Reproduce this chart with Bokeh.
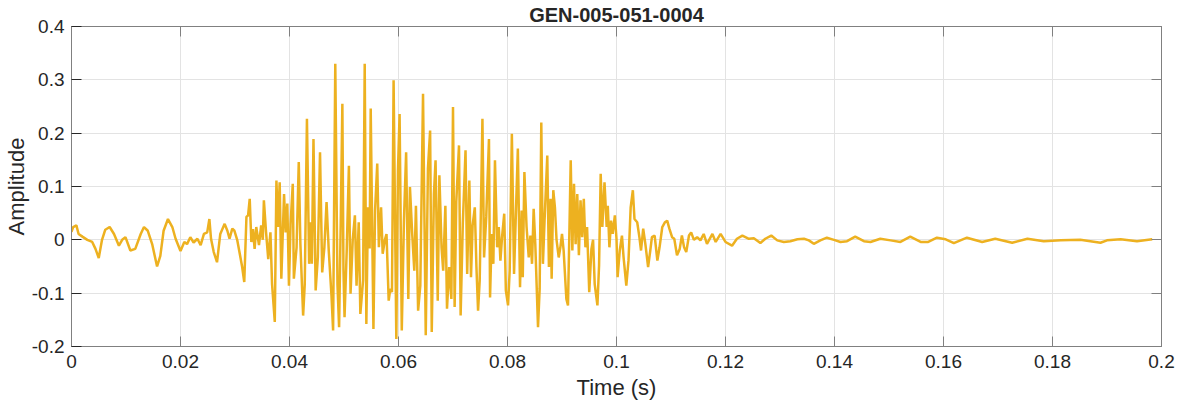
from bokeh.plotting import figure
from bokeh.models import Range1d, FixedTicker, LinearAxis
from bokeh.embed import file_html
from bokeh.resources import INLINE

# ---------------- data ----------------
chart_title = "GEN-005-051-0004"
x_label = "Time (s)"
y_label = "Amplitude"

x_ticks = [0, 0.02, 0.04, 0.06, 0.08, 0.1, 0.12, 0.14, 0.16, 0.18, 0.2]
x_tick_labels = ["0", "0.02", "0.04", "0.06", "0.08", "0.1", "0.12", "0.14", "0.16", "0.18", "0.2"]
y_ticks = [-0.2, -0.1, 0, 0.1, 0.2, 0.3, 0.4]
y_tick_labels = ["-0.2", "-0.1", "0", "0.1", "0.2", "0.3", "0.4"]

time_s = [
    0.0000, 0.0003, 0.0009, 0.0013, 0.0020, 0.0029, 0.0038, 0.0044, 0.0050, 0.0056,
    0.0062, 0.0070, 0.0078, 0.0087, 0.0093, 0.0099, 0.0108, 0.0117, 0.0127, 0.0133,
    0.0140, 0.0148, 0.0157, 0.0163, 0.0169, 0.0177, 0.0185, 0.0191, 0.0200, 0.0207,
    0.0212, 0.0218, 0.0224, 0.0231, 0.0237, 0.0243, 0.0249, 0.0253, 0.0256, 0.0261,
    0.0267, 0.0273, 0.0281, 0.0286, 0.0290, 0.0295, 0.0299, 0.0304,
    0.0310, 0.0313, 0.0317, 0.0321, 0.0324, 0.0327, 0.0330, 0.0333, 0.0336, 0.0339,
    0.0344, 0.0348, 0.0351, 0.0353, 0.0357, 0.0361, 0.0365, 0.0368, 0.0373, 0.0376,
    0.0379, 0.0382, 0.0385, 0.0390, 0.0393, 0.0396, 0.0399, 0.0402, 0.0406, 0.0408,
    0.0413, 0.0417, 0.0420, 0.0425, 0.0428, 0.0432, 0.0436, 0.0439, 0.0441, 0.0444,
    0.0448, 0.0452, 0.0456, 0.0460, 0.0464, 0.0468, 0.0472, 0.0477,
    0.0480, 0.0484, 0.0488, 0.0491, 0.0494, 0.0497, 0.0499, 0.0501, 0.0505, 0.0509,
    0.0512, 0.0516, 0.0520, 0.0523, 0.0527, 0.0530, 0.0535, 0.0538, 0.0541, 0.0544,
    0.0547, 0.0549, 0.0554, 0.0557, 0.0561, 0.0564, 0.0568, 0.0571, 0.0575, 0.0578,
    0.0582, 0.0585, 0.0588, 0.0591, 0.0596, 0.0599, 0.0602, 0.0606, 0.0610, 0.0614,
    0.0618, 0.0621, 0.0625, 0.0629, 0.0632, 0.0636, 0.0640, 0.0645, 0.0650, 0.0654, 0.0658,
    0.0661, 0.0665, 0.0668, 0.0672, 0.0675, 0.0679, 0.0682, 0.0686, 0.0689, 0.0693,
    0.0697, 0.0700, 0.0703, 0.0706, 0.0711, 0.0714, 0.0718, 0.0723, 0.0726, 0.0730,
    0.0733, 0.0736, 0.0740, 0.0743, 0.0746, 0.0749, 0.0754, 0.0757, 0.0761, 0.0766,
    0.0768, 0.0771, 0.0774, 0.0777, 0.0781, 0.0784, 0.0787, 0.0790, 0.0794, 0.0797,
    0.0801, 0.0804, 0.0808,
    0.0812, 0.0815, 0.0819, 0.0823, 0.0826, 0.0828, 0.0831, 0.0835, 0.0839, 0.0842,
    0.0845, 0.0848, 0.0851, 0.0856, 0.0859, 0.0862, 0.0865, 0.0868, 0.0873, 0.0876,
    0.0879, 0.0881, 0.0884, 0.0887, 0.0890, 0.0894, 0.0897, 0.0900, 0.0903, 0.0908,
    0.0911, 0.0916, 0.0919, 0.0922, 0.0925, 0.0928, 0.0931, 0.0934, 0.0937, 0.0940,
    0.0943, 0.0946, 0.0950, 0.0954, 0.0957, 0.0960, 0.0965, 0.0968, 0.0971, 0.0974, 0.0978,
    0.0982, 0.0984, 0.0987, 0.0990, 0.0993, 0.0997, 0.1000, 0.1002, 0.1006, 0.1010,
    0.1013, 0.1018, 0.1022, 0.1026, 0.1030, 0.1033, 0.1038, 0.1042, 0.1045, 0.1049,
    0.1053, 0.1058, 0.1062, 0.1065, 0.1070, 0.1075, 0.1079, 0.1084, 0.1089, 0.1093,
    0.1097, 0.1102, 0.1106, 0.1111, 0.1116, 0.1120, 0.1124, 0.1128, 0.1133, 0.1137,
    0.1142, 0.1148, 0.1154,
    0.1160, 0.1166, 0.1176, 0.1182, 0.1191, 0.1200, 0.1212, 0.1221, 0.1231, 0.1243,
    0.1252, 0.1264, 0.1273, 0.1284, 0.1295, 0.1307, 0.1319, 0.1332, 0.1344, 0.1353,
    0.1362, 0.1374, 0.1386, 0.1399, 0.1411, 0.1423, 0.1438, 0.1454, 0.1466, 0.1484,
    0.1503, 0.1521, 0.1539, 0.1558,
    0.1572, 0.1588, 0.1604, 0.1619, 0.1643, 0.1671, 0.1695, 0.1726, 0.1754, 0.1784,
    0.1815, 0.1851, 0.1888, 0.1900, 0.1925, 0.1955, 0.1983,
]

amplitude = [
    0.015, 0.024, 0.027, 0.011, 0.006, 0.000, -0.004, -0.017, -0.034, 0.000,
    0.019, 0.024, 0.011, -0.011, 0.000, 0.005, -0.020, -0.017, 0.011, 0.024,
    0.017, -0.008, -0.050, -0.030, 0.017, 0.039, 0.024, 0.002, -0.021, -0.004,
    -0.008, 0.005, -0.005, 0.002, -0.010, 0.011, 0.014, 0.039, 0.002, -0.023,
    -0.042, 0.011, 0.030, 0.017, 0.002, 0.021, 0.017, 0.000,
    -0.033, -0.050, -0.079, 0.043, 0.046, 0.077, -0.004, 0.020, -0.017, 0.024,
    -0.010, 0.027, 0.000, 0.074, 0.014, -0.036, 0.014, -0.083, -0.154, 0.111,
    0.024, 0.108, -0.073, 0.086, 0.014, 0.068, -0.086, 0.030, 0.105, -0.073,
    -0.014, 0.146, -0.008, -0.142, -0.083, 0.227, -0.045, 0.033, -0.045, 0.189,
    -0.095, -0.033, 0.164, -0.061, -0.014, 0.071, -0.020, -0.104,
    -0.170, 0.330, -0.083, -0.164, 0.033, 0.255, -0.056, -0.145, -0.020, 0.139,
    -0.101, 0.000, 0.046, -0.086, 0.033, -0.139, -0.076, 0.330, -0.158, 0.061,
    -0.016, 0.246, -0.167, 0.055, 0.143, -0.014, 0.061, -0.026, 0.000, 0.011,
    -0.114, -0.092, -0.098, 0.299, -0.186, 0.130, 0.236, -0.170, 0.036, 0.164,
    -0.111, 0.099, 0.014, -0.058, 0.064, -0.133, -0.086, 0.274, -0.179, 0.133, 0.205,
    -0.173, 0.086, 0.149, -0.114, 0.121, -0.014, -0.058, 0.064, -0.129, -0.051,
    -0.111, 0.249, -0.126, 0.071, 0.177, -0.142, 0.030, 0.168, -0.064, 0.111,
    -0.070, 0.027, 0.061, -0.051, -0.133, -0.076, 0.227, -0.033, 0.043, 0.189,
    -0.108, 0.011, -0.045, 0.149, -0.014, 0.024, -0.039, 0.005, 0.049, -0.095,
    -0.123, -0.058, 0.199,
    -0.064, 0.036, 0.171, -0.089, 0.055, -0.070, 0.127, 0.024, -0.033, 0.008,
    -0.045, 0.058, -0.008, -0.164, -0.092, 0.220, -0.045, 0.036, 0.158, -0.051,
    0.077, -0.073, 0.093, 0.061, 0.000, -0.033, -0.014, 0.011, -0.020, -0.111,
    -0.123, 0.149, -0.020, 0.105, -0.008, 0.086, -0.029, 0.074, 0.005, 0.077,
    -0.014, 0.024, -0.098, -0.017, 0.000, -0.083, -0.123, -0.048, 0.124, 0.024, 0.108,
    0.024, 0.064, -0.014, 0.036, 0.011, 0.046, 0.002, -0.070, -0.020, 0.008,
    -0.033, -0.086, -0.039, 0.061, 0.093, 0.039, 0.033, 0.005, -0.020, 0.021,
    -0.008, -0.051, -0.020, 0.005, 0.008, -0.039, -0.014, 0.024, 0.033, 0.036,
    0.021, 0.005, 0.002, -0.029, -0.017, 0.008, -0.014, -0.023, 0.008, 0.014,
    0.000, 0.005, -0.001,
    0.011, -0.0075, 0.011, -0.004, 0.011, -0.004, -0.011, 0.002, 0.008, 0.002,
    0.003, -0.006, 0.002, 0.008, -0.001, -0.004, -0.0025, 0.001, 0.002, -0.001,
    -0.0075, -0.001, 0.004, 0.000, -0.004, -0.0025, 0.006, -0.0025, -0.004, 0.002,
    -0.001, -0.004, 0.006, -0.004,
    -0.004, 0.004, 0.001, -0.006, 0.004, -0.004, 0.002, -0.0055, 0.002, -0.0025,
    -0.001, 0.000, -0.0055, -0.001, 0.001, -0.0025, 0.001,
]

n = min(len(time_s), len(amplitude))
time_s = time_s[:n]
amplitude = amplitude[:n]

# ---------------- style ----------------
FONT = "Liberation Sans"
LINE_COLOR = "#EDB120"
AXIS_GRAY = "#808080"
TEXT_DARK = "#262626"
GRID = "#e3e3e3"

p = figure(
    width=1177, height=404,
    output_backend="svg", toolbar_location=None,
    x_range=Range1d(0, 0.2), y_range=Range1d(-0.2, 0.4),
    min_border_left=71, min_border_right=16,
    min_border_top=26, min_border_bottom=58,
    title=chart_title,
)
p.title.align = "center"
p.title.text_font = FONT
p.title.text_font_size = "20px"
p.title.text_font_style = "bold"
p.title.text_color = TEXT_DARK
p.title.standoff = 2
p.background_fill_color = "white"
p.border_fill_color = "white"
p.outline_line_color = AXIS_GRAY
p.outline_line_width = 1

xa = p.below[0]
ya = p.left[0]
xa.ticker = FixedTicker(ticks=x_ticks)
ya.ticker = FixedTicker(ticks=y_ticks)
xa.major_label_overrides = {t: s for t, s in zip(x_ticks, x_tick_labels)}
ya.major_label_overrides = {t: s for t, s in zip(y_ticks, y_tick_labels)}
for ax in (xa, ya):
    ax.axis_line_color = AXIS_GRAY
    ax.major_tick_in = 10
    ax.major_tick_out = 0
    ax.minor_tick_line_color = None
    ax.major_label_text_font = FONT
    ax.major_label_text_font_size = "19px"
    ax.major_label_text_color = TEXT_DARK
    ax.axis_label_text_font = FONT
    ax.axis_label_text_font_size = "22px"
    ax.axis_label_text_font_style = "normal"
    ax.axis_label_text_color = TEXT_DARK
xa.major_label_standoff = 8
ya.major_label_standoff = 7
xa.axis_label = x_label
ya.axis_label = y_label
xa.axis_label_standoff = 4
ya.axis_label_standoff = 0
ya.axis_label_text_line_height = 0.8
xa.major_tick_line_color = AXIS_GRAY
ya.major_tick_line_color = TEXT_DARK

top = LinearAxis(ticker=FixedTicker(ticks=x_ticks),
                 major_label_overrides={t: "" for t in x_ticks},
                 major_label_text_font_size="1px",
                 major_tick_in=10, major_tick_out=0, minor_tick_line_color=None,
                 axis_line_color=AXIS_GRAY, major_tick_line_color=AXIS_GRAY,
                 major_label_standoff=0)
right = LinearAxis(ticker=FixedTicker(ticks=y_ticks),
                   major_label_overrides={t: "" for t in y_ticks},
                   major_label_text_font_size="1px",
                   major_tick_in=10, major_tick_out=0, minor_tick_line_color=None,
                   axis_line_color=AXIS_GRAY, major_tick_line_color=AXIS_GRAY,
                   major_label_standoff=0)
p.add_layout(top, "above")
p.add_layout(right, "right")

p.xgrid.grid_line_color = GRID
p.ygrid.grid_line_color = GRID
p.xgrid.grid_line_width = 1
p.ygrid.grid_line_width = 1

p.line(time_s, amplitude, line_color=LINE_COLOR, line_width=2.5)

open("out.html", "w").write(file_html(p, INLINE))
